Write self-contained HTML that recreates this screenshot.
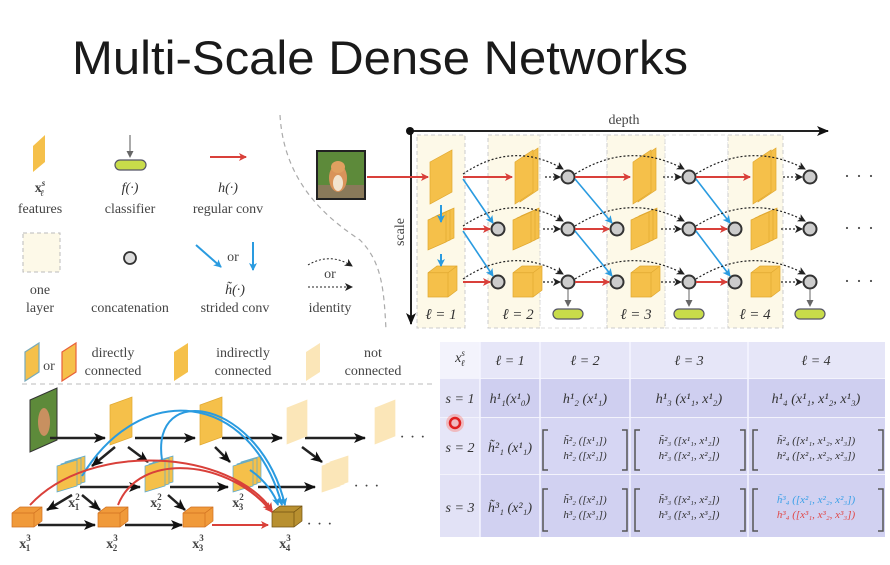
<!DOCTYPE html>
<html><head><meta charset="utf-8"><style>
html,body{margin:0;padding:0;background:#fff;}
svg{display:block;}
.s{font-family:"Liberation Serif","DejaVu Serif",serif;fill:#444;}
.m{font-family:"Liberation Serif","DejaVu Serif",serif;font-style:italic;fill:#333;}
</style></head><body>
<svg width="890" height="565" viewBox="0 0 890 565" xmlns="http://www.w3.org/2000/svg">
<defs>
<marker id="ar" markerWidth="8" markerHeight="8" refX="7" refY="4" orient="auto" markerUnits="userSpaceOnUse"><path d="M0,0 L8,4 L0,8 L2,4z" fill="#d9403a"/></marker>
<marker id="ab" markerWidth="8" markerHeight="8" refX="7" refY="4" orient="auto" markerUnits="userSpaceOnUse"><path d="M0,0 L8,4 L0,8 L2,4z" fill="#2a9be0"/></marker>
<marker id="ak" markerWidth="8" markerHeight="8" refX="7" refY="4" orient="auto" markerUnits="userSpaceOnUse"><path d="M0,0 L8,4 L0,8 L2,4z" fill="#222"/></marker>
<marker id="ag" markerWidth="7" markerHeight="7" refX="6" refY="3.5" orient="auto" markerUnits="userSpaceOnUse"><path d="M0,0 L7,3.5 L0,7z" fill="#666"/></marker>
<marker id="abk" markerWidth="12" markerHeight="10" refX="11" refY="5" orient="auto" markerUnits="userSpaceOnUse"><path d="M0,0 L12,5 L0,10 L3,5z" fill="#111"/></marker>
<g id="cat"><rect x="0" y="0" width="50" height="50" fill="#222"/><rect x="2" y="2" width="46" height="46" fill="#5d8a3a"/><rect x="2" y="35" width="46" height="13" fill="#8a7a5a"/><ellipse cx="22" cy="28" rx="9" ry="14" fill="#d9935a"/><ellipse cx="22" cy="17" rx="7" ry="6" fill="#e0a060"/><ellipse cx="22" cy="33" rx="5" ry="8" fill="#f2e4d0"/></g>
</defs>

<!-- Title -->
<text x="72" y="74" font-family="Liberation Sans, sans-serif" font-size="47" fill="#1a1a1a" textLength="616" lengthAdjust="spacingAndGlyphs">Multi-Scale Dense Networks</text>

<!-- Legend top-left -->
<polygon points="33,146 45,135 45,162 33,172" fill="#f5c04a"/>
<text x="40" y="192" class="s" font-size="14" text-anchor="middle" font-weight="bold">x<tspan font-size="9" dy="-6" font-style="italic">s</tspan><tspan font-size="9" dx="-5" dy="10" font-style="italic">ℓ</tspan></text>
<text x="40" y="213" class="s" font-size="14" text-anchor="middle">features</text>
<line x1="130" y1="135" x2="130" y2="157" stroke="#555" stroke-width="1" marker-end="url(#ag)"/>
<rect x="115" y="160" width="31" height="10" rx="5" fill="#c8dc4a" stroke="#556" stroke-width="1.2"/>
<text x="130" y="192" class="m" font-size="14" text-anchor="middle">f(·)</text>
<text x="130" y="213" class="s" font-size="14" text-anchor="middle">classifier</text>
<line x1="210" y1="157" x2="246" y2="157" stroke="#d9403a" stroke-width="2" marker-end="url(#ar)"/>
<text x="228" y="192" class="m" font-size="14" text-anchor="middle">h(·)</text>
<text x="228" y="213" class="s" font-size="14" text-anchor="middle">regular conv</text>
<rect x="23" y="233" width="37" height="39" fill="#fdf9e8" stroke="#bbb" stroke-dasharray="4,3"/>
<text x="40" y="294" class="s" font-size="14" text-anchor="middle">one</text>
<text x="40" y="312" class="s" font-size="14" text-anchor="middle">layer</text>
<circle cx="130" cy="258" r="6" fill="#ddd" stroke="#333" stroke-width="1.8"/>
<text x="130" y="312" class="s" font-size="14" text-anchor="middle">concatenation</text>
<line x1="196" y1="245" x2="221" y2="267" stroke="#2a9be0" stroke-width="2" marker-end="url(#ab)"/>
<text x="233" y="261" class="s" font-size="14" text-anchor="middle">or</text>
<line x1="253" y1="242" x2="253" y2="270" stroke="#2a9be0" stroke-width="2" marker-end="url(#ab)"/>
<text x="235" y="294" class="m" font-size="14" text-anchor="middle">h̃(·)</text>
<text x="235" y="312" class="s" font-size="14" text-anchor="middle">strided conv</text>
<path d="M308,265 Q330,252 352,266" fill="none" stroke="#222" stroke-dasharray="2,2" marker-end="url(#ak)"/>
<text x="330" y="278" class="s" font-size="14" text-anchor="middle">or</text>
<line x1="308" y1="287" x2="352" y2="287" stroke="#222" stroke-dasharray="2,2" marker-end="url(#ak)"/>
<text x="330" y="312" class="s" font-size="14" text-anchor="middle">identity</text>
<path d="M280,115 C284,185 330,220 360,240 C382,262 384,290 386,330" fill="none" stroke="#aaa" stroke-width="1.2" stroke-dasharray="5,4"/>

<!-- Main diagram -->
<use href="#cat" x="316" y="150"/>
<rect x="417" y="135" width="48" height="193" fill="#fdf9e8" stroke="#ccc" stroke-dasharray="4,3"/>
<rect x="488" y="135" width="52" height="193" fill="#fdf9e8" stroke="#ccc" stroke-dasharray="4,3"/>
<rect x="540" y="135" width="67" height="193" fill="none" stroke="#ddd" stroke-dasharray="4,3"/>
<rect x="607" y="135" width="58" height="193" fill="#fdf9e8" stroke="#ccc" stroke-dasharray="4,3"/>
<rect x="665" y="135" width="63" height="193" fill="none" stroke="#ddd" stroke-dasharray="4,3"/>
<rect x="728" y="135" width="55" height="193" fill="#fdf9e8" stroke="#ccc" stroke-dasharray="4,3"/>
<line x1="410" y1="131" x2="828" y2="131" stroke="#222" stroke-width="2" marker-end="url(#abk)"/>
<line x1="411" y1="131" x2="411" y2="324" stroke="#222" stroke-width="2" marker-end="url(#abk)"/>
<circle cx="410" cy="131" r="4" fill="#111"/>
<text x="624" y="124" class="s" font-size="14" text-anchor="middle">depth</text>
<text transform="translate(404,232) rotate(-90)" class="s" font-size="14" text-anchor="middle">scale</text>
<line x1="367" y1="177" x2="428" y2="177" stroke="#d9403a" stroke-width="2" marker-end="url(#ar)"/>

<g id="mainshapes"></g>

<text x="441" y="319" class="m" font-size="15" text-anchor="middle" fill="#666">ℓ = 1</text>
<text x="518" y="319" class="m" font-size="15" text-anchor="middle" fill="#666">ℓ = 2</text>
<text x="636" y="319" class="m" font-size="15" text-anchor="middle" fill="#666">ℓ = 3</text>
<text x="755" y="319" class="m" font-size="15" text-anchor="middle" fill="#666">ℓ = 4</text>
<text x="862" y="182" class="s" font-size="18" text-anchor="middle" fill="#111" letter-spacing="6">···</text>
<text x="862" y="234" class="s" font-size="18" text-anchor="middle" fill="#111" letter-spacing="6">···</text>
<text x="862" y="287" class="s" font-size="18" text-anchor="middle" fill="#111" letter-spacing="6">···</text>

<!-- Bottom-left legend -->
<polygon points="25,352 39,343 39,372 25,381" fill="#f5c04a" stroke="#7ab" stroke-width="1.2"/>
<text x="49" y="370" class="s" font-size="14" text-anchor="middle">or</text>
<polygon points="62,352 76,343 76,372 62,381" fill="#f5c04a" stroke="#e8603a" stroke-width="1.2"/>
<text x="113" y="357" class="s" font-size="14" text-anchor="middle">directly</text>
<text x="113" y="375" class="s" font-size="14" text-anchor="middle">connected</text>
<polygon points="174,352 188,343 188,372 174,381" fill="#f5c04a"/>
<text x="243" y="357" class="s" font-size="14" text-anchor="middle">indirectly</text>
<text x="243" y="375" class="s" font-size="14" text-anchor="middle">connected</text>
<polygon points="306,352 320,343 320,372 306,381" fill="#fbe6b8"/>
<text x="373" y="357" class="s" font-size="14" text-anchor="middle">not</text>
<text x="373" y="375" class="s" font-size="14" text-anchor="middle">connected</text>
<line x1="22" y1="384" x2="432" y2="384" stroke="#bbb" stroke-dasharray="5,4"/>

<g id="bl"></g>
<text x="74" y="507" class="s" font-size="14" fill="#2a8ad0" font-weight="bold" text-anchor="middle">x<tspan font-size="9" dy="-7">2</tspan><tspan font-size="9" dx="-5" dy="10">1</tspan></text>
<text x="156" y="507" class="s" font-size="14" fill="#2a8ad0" font-weight="bold" text-anchor="middle">x<tspan font-size="9" dy="-7">2</tspan><tspan font-size="9" dx="-5" dy="10">2</tspan></text>
<text x="238" y="507" class="s" font-size="14" fill="#2a8ad0" font-weight="bold" text-anchor="middle">x<tspan font-size="9" dy="-7">2</tspan><tspan font-size="9" dx="-5" dy="10">3</tspan></text>
<text x="25" y="548" class="s" font-size="14" fill="#d04040" font-weight="bold" text-anchor="middle">x<tspan font-size="9" dy="-7">3</tspan><tspan font-size="9" dx="-5" dy="10">1</tspan></text>
<text x="112" y="548" class="s" font-size="14" fill="#d04040" font-weight="bold" text-anchor="middle">x<tspan font-size="9" dy="-7">3</tspan><tspan font-size="9" dx="-5" dy="10">2</tspan></text>
<text x="198" y="548" class="s" font-size="14" fill="#d04040" font-weight="bold" text-anchor="middle">x<tspan font-size="9" dy="-7">3</tspan><tspan font-size="9" dx="-5" dy="10">3</tspan></text>
<text x="285" y="548" class="s" font-size="14" fill="#333" font-weight="bold" text-anchor="middle">x<tspan font-size="9" dy="-7">3</tspan><tspan font-size="9" dx="-5" dy="10">4</tspan></text>
<text x="415" y="442" class="s" font-size="16" text-anchor="middle" fill="#111" letter-spacing="5">···</text>
<text x="369" y="491" class="s" font-size="16" text-anchor="middle" fill="#111" letter-spacing="5">···</text>
<text x="322" y="529" class="s" font-size="16" text-anchor="middle" fill="#111" letter-spacing="5">···</text>

<!-- Table -->
<rect x="440" y="342" width="445" height="195" fill="#f3f3fc"/>
<rect x="480" y="342" width="405" height="36" fill="#e6e6f8"/>
<rect x="480" y="379" width="405" height="38" fill="#cfcff0"/>
<rect x="480" y="418" width="405" height="56" fill="#d6d6f3"/>
<rect x="480" y="475" width="405" height="62" fill="#d1d1f1"/>
<rect x="440" y="379" width="40" height="38" fill="#e2e2f6"/>
<rect x="440" y="418" width="40" height="56" fill="#e6e6f8"/>
<rect x="440" y="475" width="40" height="62" fill="#e2e2f6"/>
<g stroke="#f6f6ff" stroke-width="1.5"><line x1="540" y1="342" x2="540" y2="537"/><line x1="630" y1="342" x2="630" y2="537"/><line x1="748" y1="342" x2="748" y2="537"/><line x1="480" y1="342" x2="480" y2="537"/></g>
<g class="m" font-size="14" fill="#333">
<text x="460" y="362" text-anchor="middle">x<tspan font-size="9" dy="-6">s</tspan><tspan font-size="9" dx="-4" dy="10">ℓ</tspan></text>
<text x="510" y="365" text-anchor="middle">ℓ = 1</text>
<text x="585" y="365" text-anchor="middle">ℓ = 2</text>
<text x="689" y="365" text-anchor="middle">ℓ = 3</text>
<text x="816" y="365" text-anchor="middle">ℓ = 4</text>
<text x="460" y="403" text-anchor="middle">s = 1</text>
<text x="460" y="452" text-anchor="middle">s = 2</text>
<text x="460" y="512" text-anchor="middle">s = 3</text>
<text x="510" y="403" text-anchor="middle">h¹₁(x¹₀)</text>
<text x="585" y="403" text-anchor="middle">h¹₂ (x¹₁)</text>
<text x="689" y="403" text-anchor="middle">h¹₃ (x¹₁, x¹₂)</text>
<text x="816" y="403" text-anchor="middle">h¹₄ (x¹₁, x¹₂, x¹₃)</text>
<text x="510" y="452" text-anchor="middle">h̃²₁ (x¹₁)</text>
<text x="510" y="512" text-anchor="middle">h̃³₁ (x²₁)</text>
<g font-size="11">
<text x="585" y="444" text-anchor="middle">h̃²₂ ([x¹₁])</text>
<text x="585" y="459" text-anchor="middle">h²₂ ([x²₁])</text>
<text x="689" y="444" text-anchor="middle">h̃²₃ ([x¹₁, x¹₂])</text>
<text x="689" y="459" text-anchor="middle">h²₃ ([x²₁, x²₂])</text>
<text x="816" y="444" text-anchor="middle">h̃²₄ ([x¹₁, x¹₂, x¹₃])</text>
<text x="816" y="459" text-anchor="middle">h²₄ ([x²₁, x²₂, x²₃])</text>
<text x="585" y="503" text-anchor="middle">h̃³₂ ([x²₁])</text>
<text x="585" y="518" text-anchor="middle">h³₂ ([x³₁])</text>
<text x="689" y="503" text-anchor="middle">h̃³₃ ([x²₁, x²₂])</text>
<text x="689" y="518" text-anchor="middle">h³₃ ([x³₁, x³₂])</text>
<text x="816" y="503" text-anchor="middle" fill="#3aa0e8">h̃³₄ ([x²₁, x²₂, x²₃])</text>
<text x="816" y="518" text-anchor="middle" fill="#e04848">h³₄ ([x³₁, x³₂, x³₃])</text>
</g>
</g>
<g fill="none" stroke="#555" stroke-width="1.5">
<path d="M548,430 h-5 v40 h5"/><path d="M622,430 h5 v40 h-5"/><path d="M640,430 h-5 v40 h5"/><path d="M740,430 h5 v40 h-5"/><path d="M758,430 h-5 v40 h5"/><path d="M878,430 h5 v40 h-5"/>
<path d="M548,489 h-5 v42 h5"/><path d="M622,489 h5 v42 h-5"/><path d="M640,489 h-5 v42 h5"/><path d="M740,489 h5 v42 h-5"/><path d="M758,489 h-5 v42 h5"/><path d="M878,489 h5 v42 h-5"/>
</g>
<circle cx="455" cy="423" r="9" fill="#ff6a5a" opacity="0.35"/>
<circle cx="455" cy="423" r="5" fill="none" stroke="#e02020" stroke-width="2.5"/>
</svg>
<script>
const NS="http://www.w3.org/2000/svg";
function el(p,t,a){const e=document.createElementNS(NS,t);for(const k in a)e.setAttribute(k,a[k]);p.appendChild(e);return e;}
const g=document.getElementById("mainshapes");
function para(p,x,y,w,h,n,fill,stroke,skew,ox,oy){fill=fill||"#f5c04a";stroke=stroke||"#e0a830";skew=skew==null?h*0.2:skew;ox=ox==null?4:ox;oy=oy==null?-2:oy;
 for(let i=n-1;i>=0;i--){const dx=i*ox,dy=i*oy;el(p,"polygon",{points:`${x+dx},${y+dy+skew} ${x+dx+w},${y+dy} ${x+dx+w},${y+dy+h-skew} ${x+dx},${y+dy+h}`,fill:fill,stroke:stroke,"stroke-width":0.7});}}
function cube(p,x,y,w,h,fill,stroke,d){fill=fill||"#f5c04a";stroke=stroke||"#e0a830";d=d||8;
 el(p,"polygon",{points:`${x},${y+d*0.75} ${x+d},${y} ${x+w+d},${y} ${x+w+d},${y+h-d*0.75} ${x+w},${y+h} ${x},${y+h}`,fill:fill,stroke:stroke,"stroke-width":0.7});
 el(p,"polyline",{points:`${x},${y+d*0.75} ${x+w},${y+d*0.75} ${x+w+d},${y}`,fill:"none",stroke:stroke,"stroke-width":0.7});
 el(p,"line",{x1:x+w,y1:y+d*0.75,x2:x+w,y2:y+h,stroke:stroke,"stroke-width":0.7});}
function circ(x,y){el(g,"circle",{cx:x,cy:y,r:6.5,fill:"#ccc",stroke:"#333","stroke-width":2});}
function arr(x1,y1,x2,y2,c,m,extra){const a={x1,y1,x2,y2,stroke:c,"stroke-width":2,"marker-end":`url(#${m})`};Object.assign(a,extra||{});el(g,"line",a);}
function dots(x1,y1,x2,y2){el(g,"line",{x1,y1,x2,y2,stroke:"#222","stroke-width":1.2,"stroke-dasharray":"2,2","marker-end":"url(#ak)"});}
function arc(x1,y1,x2,y2,h){el(g,"path",{d:`M${x1},${y1} Q${(x1+x2)/2},${y1-h} ${x2},${y2}`,fill:"none",stroke:"#222","stroke-width":1.2,"stroke-dasharray":"2,2","marker-end":"url(#ak)"});}
const R=[177,229,282];
const fx=[430,515,633,753];
const after=[568,689,810];
const pre=[null,498,617,735];
fx.forEach((x,i)=>{
 para(g,x,150,i==0?22:18,54,i==0?1:2,null,null,12,5,-2);
 para(g,x-2,212,18,38,3,null,null,8,4,-2);
 cube(g,x-2,266,20,31,null,null,9);
});
arr(441,205,441,222,"#2a9be0","ab");
arr(441,254,441,266,"#2a9be0","ab");
for(let c=0;c<3;c++){
 const startX=c==0?463:after[c-1]+7;
 arr(startX,177,fx[c+1]-3,177,"#d9403a","ar");
 dots(fx[c+1]+30,177,after[c]-8,177);
 circ(after[c],177);
 for(let r=1;r<3;r++){
  arr(startX,R[r],pre[c+1]-8,R[r],"#d9403a","ar");
  circ(pre[c+1],R[r]);
  dots(fx[c+1]+28,R[r],after[c]-8,R[r]);
  circ(after[c],R[r]);
  arr(startX,R[r-1]+2,pre[c+1]-5,R[r]-6,"#2a9be0","ab",{"stroke-width":1.6});
 }
 for(let r=0;r<3;r++) arc(startX,R[r]-3,after[c]-5,R[r]-8,34);
 el(g,"line",{x1:after[c],y1:289,x2:after[c],y2:306,stroke:"#666","stroke-width":1,"marker-end":"url(#ag)"});
 el(g,"rect",{x:after[c]-15,y:309,width:30,height:10,rx:5,fill:"#c8dc4a",stroke:"#556","stroke-width":1.2});
}
const b=document.getElementById("bl");
function barr(x1,y1,x2,y2){el(b,"line",{x1,y1,x2,y2,stroke:"#222","stroke-width":2.5,"marker-end":"url(#abk)"});}
el(b,"polygon",{points:"30,400 57,388 57,440 30,452",fill:"#5d8a3a",stroke:"#333"});
el(b,"ellipse",{cx:44,cy:422,rx:6,ry:14,fill:"#c89060"});
barr(50,438,105,438);barr(135,438,195,438);barr(222,438,282,438);barr(305,438,365,438);
para(b,110,397,22,48,1,"#f5c04a","#e0a830",8);para(b,200,397,22,48,1,"#f5c04a","#e0a830",8);
para(b,287,400,20,44,1,"#fbe6b8","#fbe6b8",8);para(b,375,400,20,44,1,"#fbe6b8","#fbe6b8",8);
barr(80,487,140,487);barr(170,487,228,487);barr(258,487,315,487);
para(b,57,460,20,32,3,"#f5c04a","#5aaad0",6);para(b,145,460,20,32,3,"#f5c04a","#5aaad0",6);para(b,233,460,20,32,3,"#f5c04a","#5aaad0",6);
para(b,322,460,18,32,3,"#fbe6b8","#fbe6b8",6);
barr(115,447,92,466);barr(128,447,148,462);barr(215,447,230,462);barr(302,447,322,462);
barr(72,495,47,510);barr(82,495,100,510);barr(168,495,185,510);
barr(38,525,95,525);barr(125,525,182,525);
el(b,"line",{x1:212,y1:525,x2:268,y2:525,stroke:"#d9403a","stroke-width":2,"marker-end":"url(#ar)"});
cube(b,12,507,22,20,"#f09a3a","#d07020");cube(b,98,507,22,20,"#f09a3a","#d07020");cube(b,183,507,22,20,"#f09a3a","#d07020");
cube(b,272,506,22,21,"#b89030","#705010");
function ca(d,c,m){el(b,"path",{d,fill:"none",stroke:c,"stroke-width":2,"marker-end":`url(#${m})`});}
ca("M82,476 C140,380 250,390 282,505","#2a9be0","ab");
ca("M162,460 C150,380 260,400 285,505","#2a9be0","ab");
ca("M30,505 C90,440 230,450 272,510","#d9403a","ar");
ca("M118,505 C140,450 230,460 272,512","#d9403a","ar");
ca("M250,470 C265,480 275,495 278,505","#2a9be0","ab");
ca("M235,480 C250,490 262,500 270,510","#d9403a","ar");
</script>
</body></html>
